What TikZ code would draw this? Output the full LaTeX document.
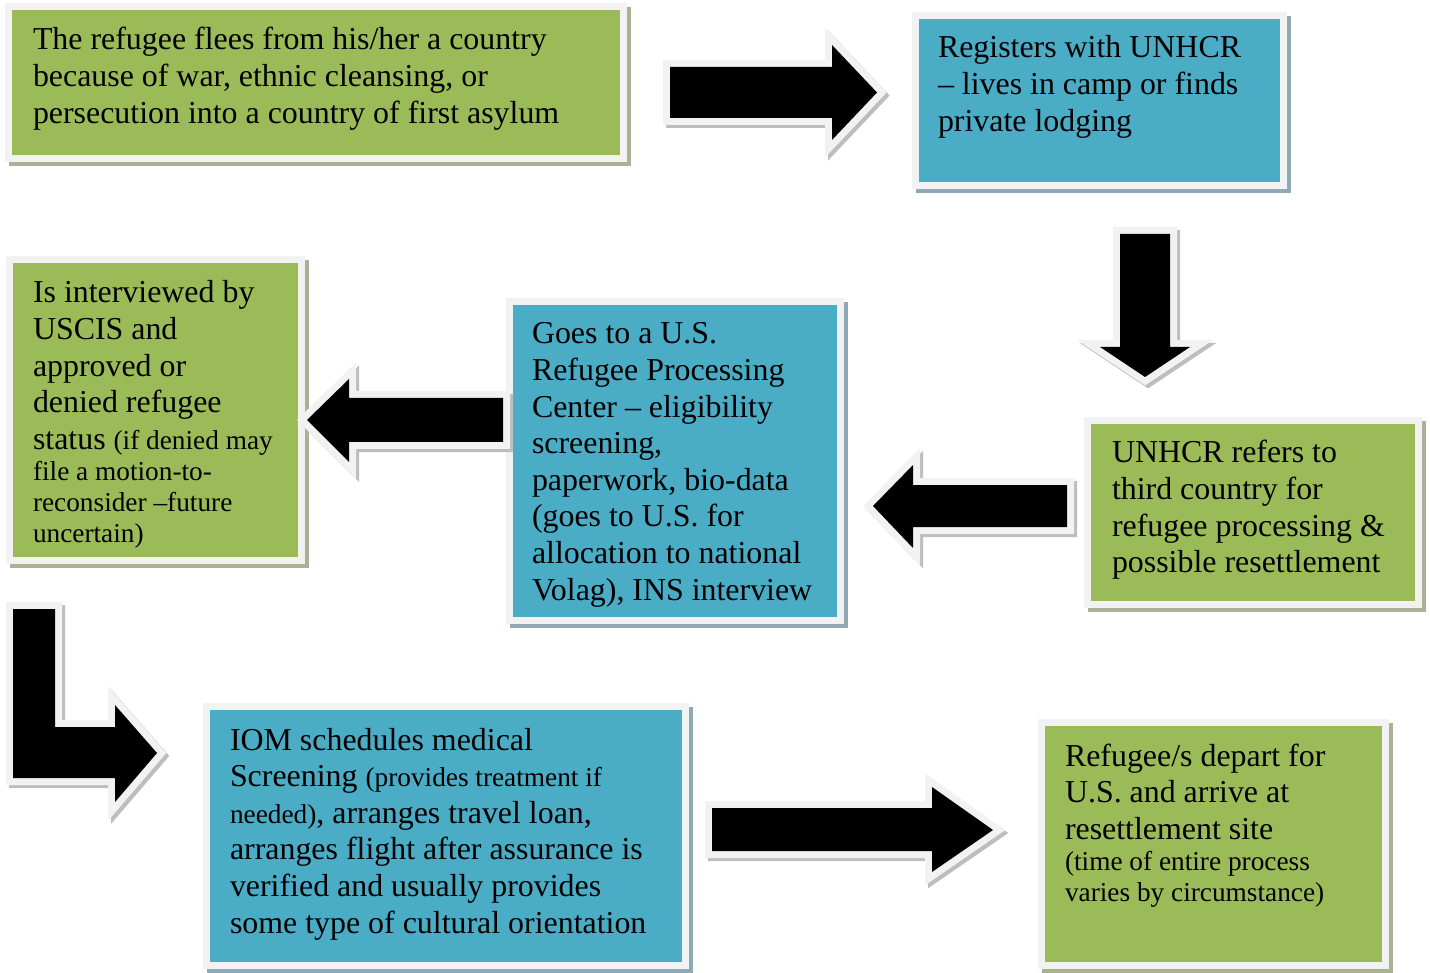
\documentclass[tikz,border=0pt]{standalone}
\usepackage{fontspec}
\setmainfont{Liberation Serif}
\definecolor{gfill}{HTML}{9BBB59}
\definecolor{bfill}{HTML}{4BACC6}
\definecolor{rim}{HTML}{F2F2F2}
\definecolor{gshad}{HTML}{A9B295}
\definecolor{bshad}{HTML}{8FAAB5}
\definecolor{ashad}{HTML}{BDBDBD}
\newcommand\bigf{\fontsize{31.9}{36.6}\selectfont\spaceskip=.25em\xspaceskip=.25em\relax}
\newcommand\smf{\fontsize{27.3}{31.2}\selectfont\spaceskip=.25em\xspaceskip=.25em\relax}
\newcommand\blockarrow[1]{%
  \fill[ashad, draw=ashad, line width=14pt, line join=miter, miter limit=20, transform canvas={shift={(3pt,-3pt)}}] #1;
  \fill[rim, draw=rim, line width=14pt, line join=miter, miter limit=20] #1;
  \fill[black] #1;}
\begin{document}
\begin{tikzpicture}[x=1pt,y=-1pt,
  box/.style={rectangle, inner sep=0pt, outer sep=0pt, line width=7pt, draw=rim},
  gbox/.style={box, fill=gfill, preaction={fill=gshad, draw=gshad, line width=7pt, transform canvas={shift={(4pt,-4pt)}}}},
  bbox/.style={box, fill=bfill, preaction={fill=bshad, draw=bshad, line width=7pt, transform canvas={shift={(4pt,-4pt)}}}},
  txt/.style={anchor=base west, inner sep=0pt, outer sep=0pt, text width=640pt, align=left, font=\bigf}]
\useasboundingbox (0,0) rectangle (1430,973);

% boxes
\node[gbox, minimum width=615, minimum height=152] (b1) at (316,82.5) {};
\node[bbox, minimum width=368, minimum height=170] (b2) at (1099.5,100.5) {};
\node[gbox, minimum width=292, minimum height=301] (b3) at (155.5,410) {};
\node[bbox, minimum width=331, minimum height=319] (b4) at (675,461) {};
\node[gbox, minimum width=331, minimum height=184] (b5) at (1253,512.5) {};
\node[bbox, minimum width=479, minimum height=259] (b6) at (446,836) {};
\node[gbox, minimum width=344, minimum height=243] (b7) at (1213.5,844) {};

% texts
\node[txt] (t1) at (33,50) {\bigf The refugee flees from his/her a country\\because of war, ethnic cleansing, or\\persecution into a country of first asylum};
\node[txt] (t2) at (938,58) {\bigf Registers with UNHCR\\– lives in camp or finds\\private lodging};
\node[txt] (t3) at (33,303) {\bigf Is interviewed by\\USCIS and\\approved or\\denied refugee\\status {\smf (if denied may}\par{\smf file a motion-to-\\reconsider –future\\uncertain)\par}};
\node[txt] (t4) at (532,344) {\bigf Goes to a U.S.\\Refugee Processing\\Center – eligibility\\screening,\\paperwork, bio-data\\(goes to U.S. for\\allocation to national\\Volag), INS interview};
\node[txt] (t5) at (1112,463) {\bigf UNHCR refers to\\third country for\\refugee processing \&\\possible resettlement};
\node[txt] (t6) at (230,750) {\bigf IOM schedules medical\\Screening {\smf (provides treatment if}\\{\smf needed)}, arranges travel loan,\\arranges flight after assurance is\\verified and usually provides\\some type of cultural orientation};
\node[txt] (t7) at (1065,766) {\bigf Refugee/s depart for\\U.S. and arrive at\\resettlement site\par{\smf (time of entire process\\varies by circumstance)\par}};

% block arrows
\blockarrow{(670,67) -- (832,67) -- (832,45) -- (877,92.5) -- (832,140) -- (832,118) -- (670,118) -- cycle}
\blockarrow{(1120,234) -- (1170,234) -- (1170,347) -- (1190,347) -- (1145,377) -- (1100,347) -- (1120,347) -- cycle}
\blockarrow{(1067,485) -- (913,485) -- (913,465) -- (873,506) -- (913,548) -- (913,527) -- (1067,527) -- cycle}
\blockarrow{(503,398) -- (349,398) -- (349,379) -- (307,420) -- (349,462) -- (349,442) -- (503,442) -- cycle}
\blockarrow{(13,609) -- (55,609) -- (55,727) -- (115,727) -- (115,705) -- (157,753) -- (115,802) -- (115,778) -- (13,778) -- cycle}
\blockarrow{(712,808) -- (932,808) -- (932,787) -- (993,830) -- (932,872) -- (932,851) -- (712,851) -- cycle}
\end{tikzpicture}
\end{document}
